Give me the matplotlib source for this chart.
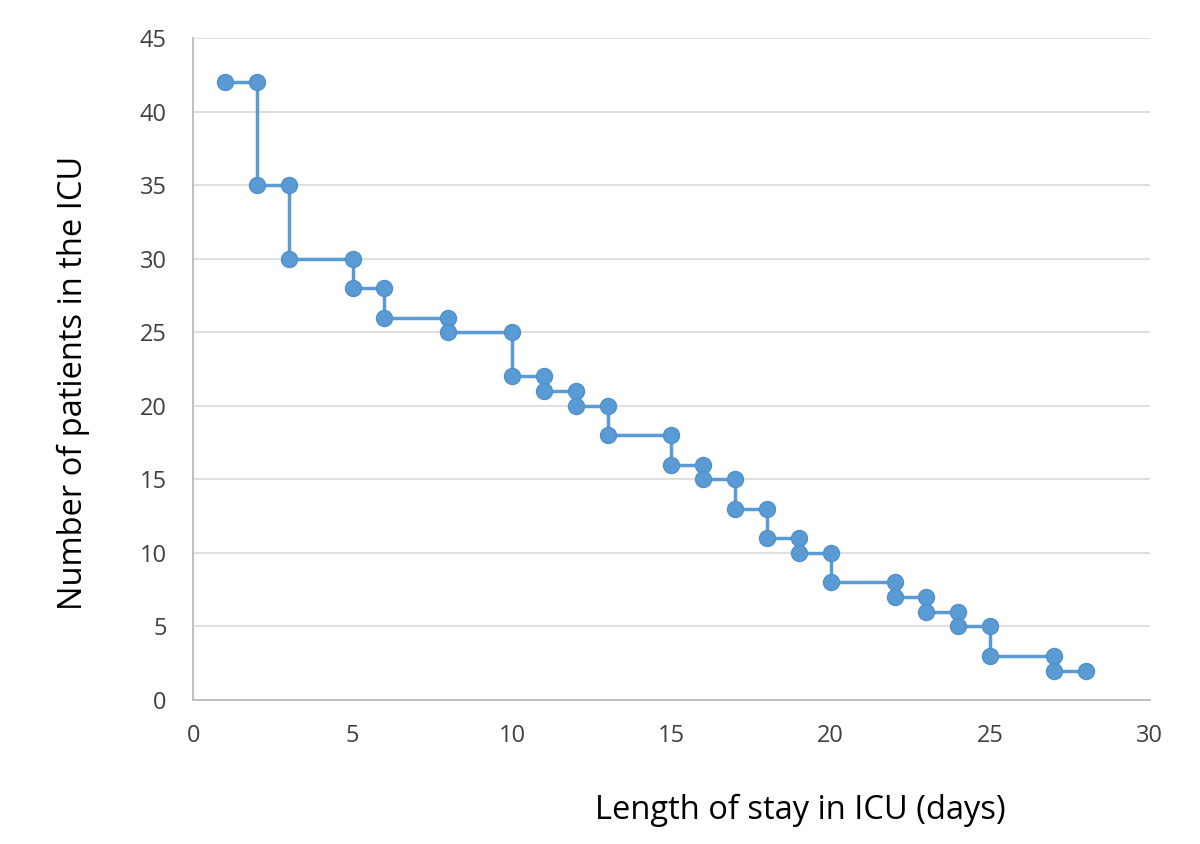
import matplotlib.pyplot as plt

plt.rcParams['font.family'] = ['Open Sans', 'DejaVu Sans']

# step points (days, patients remaining)
days = [1, 2, 2, 3, 3, 5, 5, 6, 6, 8, 8, 10, 10, 11, 11, 12, 12, 13, 13, 15, 15,
        16, 16, 17, 17, 18, 18, 19, 19, 20, 20, 22, 22, 23, 23, 24, 24, 25, 25,
        27, 27, 28]
patients = [42, 42, 35, 35, 30, 30, 28, 28, 26, 26, 25, 25, 22, 22, 21, 21, 20,
            20, 18, 18, 16, 16, 15, 15, 13, 13, 11, 11, 10, 10, 8, 8, 7, 7, 6, 6,
            5, 5, 3, 3, 2, 2]
xticks = [0, 5, 10, 15, 20, 25, 30]
yticks = [0, 5, 10, 15, 20, 25, 30, 35, 40, 45]

fig = plt.figure(figsize=(12, 8.44), dpi=100)
ax = fig.add_axes([0.161, 0.1706, 0.797, 0.7844])

blue = '#5B9BD5'
ax.plot(days, patients, color=blue, lw=2.5, marker='o', markersize=11.5,
        markerfacecolor=blue, markeredgecolor='#4F8FCB', markeredgewidth=1,
        zorder=3)

ax.set_xlim(0, 30)
ax.set_ylim(0, 45)
ax.set_xticks(xticks)
ax.set_yticks(yticks)
ax.yaxis.grid(True, color='#D9D9D9', lw=1.2)
ax.set_axisbelow(True)
for s in ['top', 'right']:
    ax.spines[s].set_visible(False)
for s in ['left', 'bottom']:
    ax.spines[s].set_color('#BFBFBF')
    ax.spines[s].set_linewidth(1.4)
ax.tick_params(length=0, labelsize=17, colors='#404040')
ax.tick_params(axis='y', pad=19)
ax.tick_params(axis='x', pad=17)

fig.text(0.667, 0.040, 'Length of stay in ICU (days)', fontsize=23.5,
         ha='center', va='center')
fig.text(0.061, 0.546, 'Number of patients in the ICU', fontsize=23.5,
         ha='center', va='center', rotation=90)

fig.savefig('out.png', dpi=100)
